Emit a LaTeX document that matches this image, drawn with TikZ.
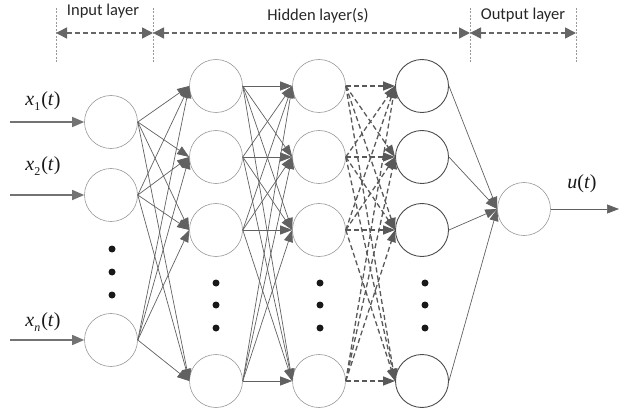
\documentclass[tikz,border=0pt]{standalone}
\usepackage{fontspec}
\setmainfont{Carlito}
\newfontfamily\tms{Liberation Serif}
\usetikzlibrary{arrows.meta}
\tikzset{
  neuron/.style={circle, draw=black!40, line width=0.6pt, minimum size=53pt, inner sep=0pt},
  neurondark/.style={neuron, draw=black!70, line width=0.9pt},
  conn/.style={draw=black!62, line width=0.7pt, -{Triangle[length=12pt,width=9pt]}},
  dconn/.style={conn, draw=black!65, line width=1.3pt, dash pattern=on 5pt off 3pt},
  inarrow/.style={draw=black!55, line width=1.4pt, -{Triangle[length=12pt,width=10pt]}},
  vline/.style={draw=black!40, line width=0.5pt, dash pattern=on 2pt off 1.5pt},
  harrow/.style={draw=black!60, line width=1.6pt, dash pattern=on 5pt off 3pt,
    {Triangle[length=11pt,width=11pt]}-{Triangle[length=11pt,width=11pt]}},
  hdr/.style={font=\fontsize{16.5}{16.5}\selectfont, text=black!85, anchor=base, inner sep=0pt},
  mlbl/.style={font=\fontsize{20}{20}\selectfont\tms, text=black!90, inner sep=0pt},
  dotmark/.style={fill=black!90}
}
\newcommand{\xlab}[1]{\textit{x}\raisebox{-0.28em}{\fontsize{12}{12}\selectfont #1}\kern1pt(\textit{t})}
\begin{document}
\begin{tikzpicture}[x=1pt,y=-1pt]
\useasboundingbox (0,0) rectangle (619,409);
% header
\foreach \n/\xx in {v1/56,v2/153,v3/470,v4/576}{
  \coordinate (\n t) at (\xx,8);
  \coordinate (\n b) at (\xx,62);
  \coordinate (\n m) at (\xx,33);
  \draw[vline] (\n t) -- (\n b);
}
\draw[harrow] (v1m) -- (v2m);
\draw[harrow] (v2m) -- (v3m);
\draw[harrow] (v3m) -- (v4m);
\node[hdr] (tin) at (103,16) {Input layer};
\node[hdr] (thid) at (318,21) {Hidden layer(s)};
\node[hdr] (tout) at (523,20) {Output layer};
% neurons
\node[neuron] (I1) at (111,122) {};
\node[neuron] (I2) at (111,195) {};
\node[neuron] (I3) at (111,340) {};
\foreach \i/\yy in {1/86,2/157,3/230,4/381}{
  \node[neuron] (A\i) at (216,\yy) {};
  \node[neuron] (B\i) at (319,\yy) {};
  \node[neurondark] (C\i) at (422,\yy) {};
}
\node[neuron] (O) at (524,209) {};
% dots
\foreach \yy in {249,272,295}{ \fill[dotmark] (112,\yy) circle (3.5pt); }
\foreach \xx in {216,320,425}{
  \foreach \yy in {283,305,328}{ \fill[dotmark] (\xx,\yy) circle (3.5pt); }
}
% inputs
\coordinate (s1) at (10,122);
\coordinate (s2) at (10,195);
\coordinate (s3) at (10,340);
\draw[inarrow] (s1) -- (I1.west);
\draw[inarrow] (s2) -- (I2.west);
\draw[inarrow] (s3) -- (I3.west);
\node[mlbl] (l1) at (43,101) {\xlab{1}};
\node[mlbl] (l2) at (43,166) {\xlab{2}};
\node[mlbl] (l3) at (43,322) {\xlab{\textit{n}}};
% connections
\foreach \i in {1,2,3}{ \foreach \j in {1,2,3,4}{ \draw[conn] (I\i.east) -- (A\j.west); } }
\foreach \i in {1,2,3,4}{ \foreach \j in {1,2,3,4}{ \draw[conn] (A\i.east) -- (B\j.west); } }
\foreach \i in {1,2,3,4}{ \foreach \j in {1,2,3,4}{ \draw[dconn] (B\i.east) -- (C\j.west); } }
\foreach \i in {1,2,3,4}{ \draw[conn] (C\i.east) -- (O.west); }
% output
\coordinate (oe) at (619,209);
\draw[conn] (O.east) -- (oe);
\node[mlbl] (lu) at (582,184) {\textit{u}(\textit{t})};
\end{tikzpicture}
\end{document}
